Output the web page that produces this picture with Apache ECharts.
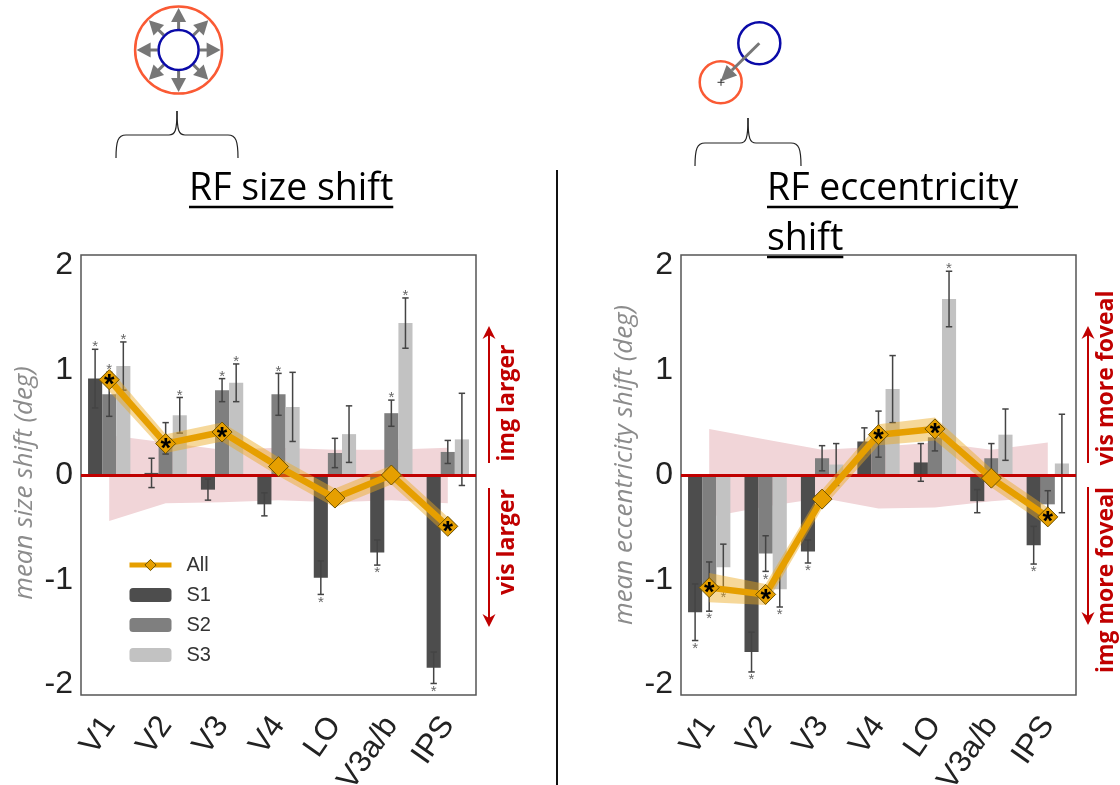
<!DOCTYPE html>
<html><head><meta charset="utf-8">
<script src="https://cdn.jsdelivr.net/npm/echarts@6/dist/echarts.min.js"></script>
<style>html,body{margin:0;padding:0;background:#fff}#c{width:1120px;height:785px}</style>
</head><body><div id="c"></div>
<script>
const categories = ['V1', 'V2', 'V3', 'V4', 'LO', 'V3a/b', 'IPS'];
const yTickValues = [-2, -1, 0, 1, 2];

// RF size shift panel
const sizeS1 = [0.92, 0.02, -0.14, -0.28, -0.98, -0.74, -1.84];
const sizeS1Err = [0.28, 0.14, 0.10, 0.11, 0.16, 0.12, 0.15];
const sizeS1Sig = [1, 0, 0, 0, 1, 1, 1];
const sizeS2 = [0.77, 0.35, 0.81, 0.77, 0.21, 0.59, 0.22];
const sizeS2Err = [0.21, 0.15, 0.11, 0.20, 0.14, 0.125, 0.11];
const sizeS2Sig = [1, 0, 1, 1, 0, 1, 0];
const sizeS3 = [1.04, 0.57, 0.88, 0.65, 0.39, 1.45, 0.34];
const sizeS3Err = [0.23, 0.17, 0.18, 0.33, 0.27, 0.24, 0.44];
const sizeS3Sig = [1, 1, 1, 0, 0, 1, 0];
const sizeAll = [0.91, 0.30, 0.41, 0.08, -0.22, 0.00, -0.49];
const sizeAllErr = [0.11, 0.09, 0.09, 0.09, 0.09, 0.09, 0.09];
const sizeAllSig = [1, 1, 1, 0, 0, 0, 1];
const sizeNullHi = [0.38, 0.31, 0.24, 0.26, 0.24, 0.24, 0.26];
const sizeNullLo = [-0.44, -0.27, -0.26, -0.24, -0.26, -0.24, -0.27];

// RF eccentricity shift panel
const eccS1 = [-1.31, -1.69, -0.73, 0.32, 0.12, -0.25, -0.67];
const eccS1Err = [0.27, 0.19, 0.11, 0.13, 0.18, 0.11, 0.18];
const eccS1Sig = [1, 1, 1, 0, 0, 0, 1];
const eccS2 = [-1.065, -0.75, 0.16, 0.39, 0.36, 0.16, -0.28];
const eccS2Err = [0.235, 0.17, 0.12, 0.22, 0.13, 0.14, 0.13];
const eccS2Sig = [1, 1, 0, 0, 0, 0, 0];
const eccS3 = [-0.88, -1.09, 0.10, 0.82, 1.68, 0.385, 0.11];
const eccS3Err = [0.22, 0.17, 0.20, 0.32, 0.265, 0.245, 0.47];
const eccS3Sig = [1, 1, 0, 0, 1, 0, 0];
const eccAll = [-1.075, -1.14, -0.23, 0.385, 0.44, -0.03, -0.40];
const eccAllErr = [0.14, 0.10, 0.09, 0.10, 0.11, 0.09, 0.09];
const eccAllSig = [1, 1, 0, 1, 1, 0, 1];
const eccNullHi = [0.44, 0.34, 0.24, 0.27, 0.31, 0.24, 0.31];
const eccNullLo = [-0.40, -0.30, -0.22, -0.32, -0.31, -0.25, -0.21];

const subjColors = ['#4d4d4d', '#7f7f7f', '#c2c2c2'];
const orange = '#e69f00';
const red = '#c00000';
const axisFont = 'Liberation Sans';

const chart = echarts.init(document.getElementById('c'), null, {renderer: 'canvas'});

function measure(text, font) {
  const ctx = document.createElement('canvas').getContext('2d');
  ctx.font = font;
  return ctx.measureText(text).width;
}

function errSeries(name, vals, errs, sigs, idx, ax) {
  return {
    type: 'custom', name: name + '_err', xAxisIndex: ax, yAxisIndex: ax, z: 4, silent: true,
    data: vals.map((v, i) => [i, v, errs[i], sigs[i]]),
    encode: {x: 0, y: 1},
    renderItem: function (params, api) {
      const i = api.value(0), v = api.value(1), e = api.value(2), s = api.value(3);
      const bw = api.size([1, 0])[0];
      const off = (idx - 1) * bw * 0.25;
      const top = api.coord([i, v + e]);
      const bot = api.coord([i, v - e]);
      const x = top[0] + off;
      const cap = 3.2;
      const st = {stroke: '#444', lineWidth: 1.5};
      const children = [
        {type: 'line', shape: {x1: x, y1: top[1], x2: x, y2: bot[1]}, style: st},
        {type: 'line', shape: {x1: x - cap, y1: top[1], x2: x + cap, y2: top[1]}, style: st},
        {type: 'line', shape: {x1: x - cap, y1: bot[1], x2: x + cap, y2: bot[1]}, style: st}
      ];
      if (s) {
        const yc = v >= 0 ? top[1] - 5 : bot[1] + 5;
        children.push({type: 'text', style: {text: '*', x: x, y: yc + 3, align: 'center', verticalAlign: 'middle',
          fill: '#666', fontSize: 15, fontFamily: axisFont}});
      }
      return {type: 'group', children: children};
    }
  };
}

function panelSeries(ax, S, E, G, all, allErr, allSig, nHi, nLo) {
  const out = [];
  out.push({type: 'line', name: 'null_lo' + ax, xAxisIndex: ax, yAxisIndex: ax, stack: 'null' + ax, stackStrategy: 'all',
    data: nLo, symbol: 'none', lineStyle: {opacity: 0}, silent: true, z: 1});
  out.push({type: 'line', name: 'null_w' + ax, xAxisIndex: ax, yAxisIndex: ax, stack: 'null' + ax, stackStrategy: 'all',
    data: nHi.map((h, i) => h - nLo[i]), symbol: 'none', lineStyle: {opacity: 0},
    areaStyle: {color: '#f1d5d8', opacity: 1}, silent: true, z: 1});
  ['S1', 'S2', 'S3'].forEach((nm, k) => {
    const s = {type: 'bar', name: nm, xAxisIndex: ax, yAxisIndex: ax, data: S[k], barGap: '0%', barCategoryGap: '25%',
      itemStyle: {color: subjColors[k]}, z: 2, silent: true};
    if (k === 2) {
      s.markLine = {silent: true, symbol: 'none', label: {show: false},
        lineStyle: {color: red, width: 3, type: 'solid'}, data: [{yAxis: 0}]};
    }
    out.push(s);
  });
  ['S1', 'S2', 'S3'].forEach((nm, k) => out.push(errSeries(nm + ax, S[k], E[k], G[k], k, ax)));
  out.push({type: 'line', name: 'all_lo' + ax, xAxisIndex: ax, yAxisIndex: ax, stack: 'allb' + ax, stackStrategy: 'all',
    data: all.map((v, i) => v - allErr[i]), symbol: 'none', lineStyle: {opacity: 0}, silent: true, z: 5});
  out.push({type: 'line', name: 'all_w' + ax, xAxisIndex: ax, yAxisIndex: ax, stack: 'allb' + ax, stackStrategy: 'all',
    data: allErr.map(e => 2 * e), symbol: 'none', lineStyle: {opacity: 0},
    areaStyle: {color: 'rgba(234,168,30,0.45)', opacity: 1}, silent: true, z: 5});
  out.push({type: 'line', name: 'All', xAxisIndex: ax, yAxisIndex: ax, z: 6, silent: true,
    data: all.map((v, i) => ({value: v, label: {show: !!allSig[i]}})),
    symbol: 'diamond', symbolSize: 20,
    lineStyle: {color: orange, width: 6.5},
    itemStyle: {color: orange, borderColor: '#6e5200', borderWidth: 1},
    label: {show: false, position: 'inside', formatter: '*', color: '#000', fontSize: 27, fontWeight: 'bold',
      fontFamily: axisFont, offset: [0, 6]}
  });
  return out;
}

function grid(left) {
  return {left: left, top: 255, width: 395, height: 440, show: true, borderColor: '#555', borderWidth: 1.5,
    backgroundColor: 'transparent', containLabel: false, outerBoundsMode: 'none'};
}
function xAx(gi) {
  return {type: 'category', gridIndex: gi, data: categories, boundaryGap: true,
    axisLine: {show: false}, axisTick: {show: false},
    axisLabel: {rotate: 55, margin: 25, fontSize: 31, color: '#222', fontFamily: axisFont, interval: 0}};
}
function yAx(gi) {
  return {type: 'value', gridIndex: gi, min: -2.1, max: 2.1,
    axisLine: {show: false}, axisTick: {show: false}, splitLine: {show: false},
    axisLabel: {customValues: yTickValues, margin: 8, fontSize: 32, color: '#222', fontFamily: axisFont}};
}

const series = [].concat(
  panelSeries(0, [sizeS1, sizeS2, sizeS3], [sizeS1Err, sizeS2Err, sizeS3Err], [sizeS1Sig, sizeS2Sig, sizeS3Sig],
    sizeAll, sizeAllErr, sizeAllSig, sizeNullHi, sizeNullLo),
  panelSeries(1, [eccS1, eccS2, eccS3], [eccS1Err, eccS2Err, eccS3Err], [eccS1Sig, eccS2Sig, eccS3Sig],
    eccAll, eccAllErr, eccAllSig, eccNullHi, eccNullLo)
);

const titleSize = 37.5;
const titleFont = titleSize + 'px "Open Sans"';
const g = [];
function title(text, x, yMid, yLine) {
  const w = measure(text, titleFont);
  g.push({type: 'text', x: x, y: yMid, style: {text: text, fontSize: titleSize, fontFamily: 'Open Sans', fill: '#000',
    align: 'left', verticalAlign: 'middle'}});
  g.push({type: 'line', shape: {x1: x, y1: yLine, x2: x + w, y2: yLine}, style: {stroke: '#000', lineWidth: 2.5}});
}
title('RF size shift', 189, 189, 207);
title('RF eccentricity', 767, 189, 207);
title('shift', 767, 239, 257);

g.push({type: 'line', shape: {x1: 557, y1: 170, x2: 557, y2: 785}, style: {stroke: '#111', lineWidth: 2}});

g.push({type: 'text', x: 25, y: 483, rotation: Math.PI / 2, style: {text: 'mean size shift (deg)', fontSize: 26,
  fontStyle: 'italic', fontFamily: 'Open Sans', fill: '#8c8c8c', align: 'center', verticalAlign: 'middle'}});
g.push({type: 'text', x: 625, y: 465, rotation: Math.PI / 2, style: {text: 'mean eccentricity shift (deg)', fontSize: 26,
  fontStyle: 'italic', fontFamily: 'Open Sans', fill: '#8c8c8c', align: 'center', verticalAlign: 'middle'}});

function arrow(x, y1, y2) {
  const dir = y2 < y1 ? -1 : 1;
  g.push({type: 'line', shape: {x1: x, y1: y1, x2: x, y2: y2 - dir * 6}, style: {stroke: red, lineWidth: 2}});
  g.push({type: 'polygon', shape: {points: [[x, y2], [x - 6.5, y2 - dir * 13], [x, y2 - dir * 9], [x + 6.5, y2 - dir * 13]]},
    style: {fill: red}});
}
function redText(text, x, y) {
  g.push({type: 'text', x: x, y: y, rotation: Math.PI / 2, style: {text: text, fontSize: 23, fontWeight: 'bold',
    fontFamily: 'Open Sans', fill: red, align: 'center', verticalAlign: 'middle'}});
}
arrow(489, 463, 326); arrow(489, 488, 627);
redText('img larger', 507, 403); redText('vis larger', 507, 542);
arrow(1088, 463, 326); arrow(1088, 487, 625);
redText('vis more foveal', 1106, 378); redText('img more foveal', 1106, 580);

const cx = 178.6, cy = 50;
g.push({type: 'circle', shape: {cx: cx, cy: cy, r: 43.5}, style: {stroke: '#fa5a34', fill: 'none', lineWidth: 2.5}});
for (let k = 0; k < 8; k++) {
  const a = k * Math.PI / 4;
  const ux = Math.cos(a), uy = Math.sin(a), px = -uy, py = ux;
  const r0 = 21, rb = 28, rt = 42, hw = 7.5;
  g.push({type: 'line', shape: {x1: cx + ux * r0, y1: cy + uy * r0, x2: cx + ux * (rb + 1), y2: cy + uy * (rb + 1)},
    style: {stroke: '#777', lineWidth: 3}});
  g.push({type: 'polygon', shape: {points: [[cx + ux * rt, cy + uy * rt],
    [cx + ux * rb + px * hw, cy + uy * rb + py * hw], [cx + ux * rb - px * hw, cy + uy * rb - py * hw]]},
    style: {fill: '#777'}});
}
g.push({type: 'circle', shape: {cx: cx, cy: cy, r: 20}, style: {stroke: '#0a0aa8', fill: 'none', lineWidth: 2.5}});

g.push({type: 'circle', shape: {cx: 759.3, cy: 43.3, r: 21}, style: {stroke: '#0a0aa8', fill: 'none', lineWidth: 2.5}});
g.push({type: 'circle', shape: {cx: 720.7, cy: 82.3, r: 21}, style: {stroke: '#fa5a34', fill: 'none', lineWidth: 2.5}});
(function () {
  const x1 = 759.3, y1 = 43.3, x2 = 720.5, y2 = 81.5;
  const dx = x2 - x1, dy = y2 - y1, L = Math.hypot(dx, dy), ux = dx / L, uy = dy / L, px = -uy, py = ux;
  const hl = 16, hw = 7.5;
  const bx = x2 - ux * hl, by = y2 - uy * hl;
  g.push({type: 'line', shape: {x1: x1, y1: y1, x2: bx, y2: by}, style: {stroke: '#777', lineWidth: 3}});
  g.push({type: 'polygon', shape: {points: [[x2, y2], [bx + px * hw, by + py * hw], [bx - px * hw, by - py * hw]]},
    style: {fill: '#777'}});
})();
g.push({type: 'line', shape: {x1: 717.5, y1: 82.3, x2: 724.5, y2: 82.3}, style: {stroke: '#333', lineWidth: 1}});
g.push({type: 'line', shape: {x1: 721, y1: 78.8, x2: 721, y2: 85.8}, style: {stroke: '#333', lineWidth: 1}});

function brace(x1, x2, yb, yh, yp) {
  const xm = (x1 + x2) / 2;
  const st = {stroke: '#222', fill: 'none', lineWidth: 1.2};
  g.push({type: 'bezierCurve', shape: {x1: x1, y1: yb, cpx1: x1, cpy1: yh + 6, cpx2: x1 + 2, cpy2: yh, x2: x1 + 10, y2: yh}, style: st});
  g.push({type: 'line', shape: {x1: x1 + 10, y1: yh, x2: xm - 8, y2: yh}, style: st});
  g.push({type: 'bezierCurve', shape: {x1: xm - 8, y1: yh, cpx1: xm - 2, cpy1: yh, cpx2: xm, cpy2: yh - 4, x2: xm, y2: yp}, style: st});
  g.push({type: 'bezierCurve', shape: {x1: xm, y1: yp, cpx1: xm, cpy1: yh - 4, cpx2: xm + 2, cpy2: yh, x2: xm + 8, y2: yh}, style: st});
  g.push({type: 'line', shape: {x1: xm + 8, y1: yh, x2: x2 - 10, y2: yh}, style: st});
  g.push({type: 'bezierCurve', shape: {x1: x2 - 10, y1: yh, cpx1: x2 - 2, cpy1: yh, cpx2: x2, cpy2: yh + 6, x2: x2, y2: yb}, style: st});
}
brace(116, 238, 158, 135, 111);
brace(695, 801, 166, 143, 118);

const option = {
  animation: false,
  backgroundColor: '#fff',
  grid: [grid(81), grid(681)],
  xAxis: [xAx(0), xAx(1)],
  yAxis: [yAx(0), yAx(1)],
  legend: {
    data: [
      {name: 'All', lineStyle: {width: 5, color: orange}, itemStyle: {color: orange, borderColor: '#6e5200', borderWidth: 1}},
      'S1', 'S2', 'S3'
    ],
    orient: 'vertical', left: 122, top: 550,
    itemWidth: 42, itemHeight: 14, itemGap: 10,
    textStyle: {fontSize: 20, color: '#333', fontFamily: axisFont, padding: [0, 0, 0, 10]},
    selectedMode: false
  },
  series: series,
  graphic: {elements: g}
};
chart.setOption(option);
</script></body></html>
